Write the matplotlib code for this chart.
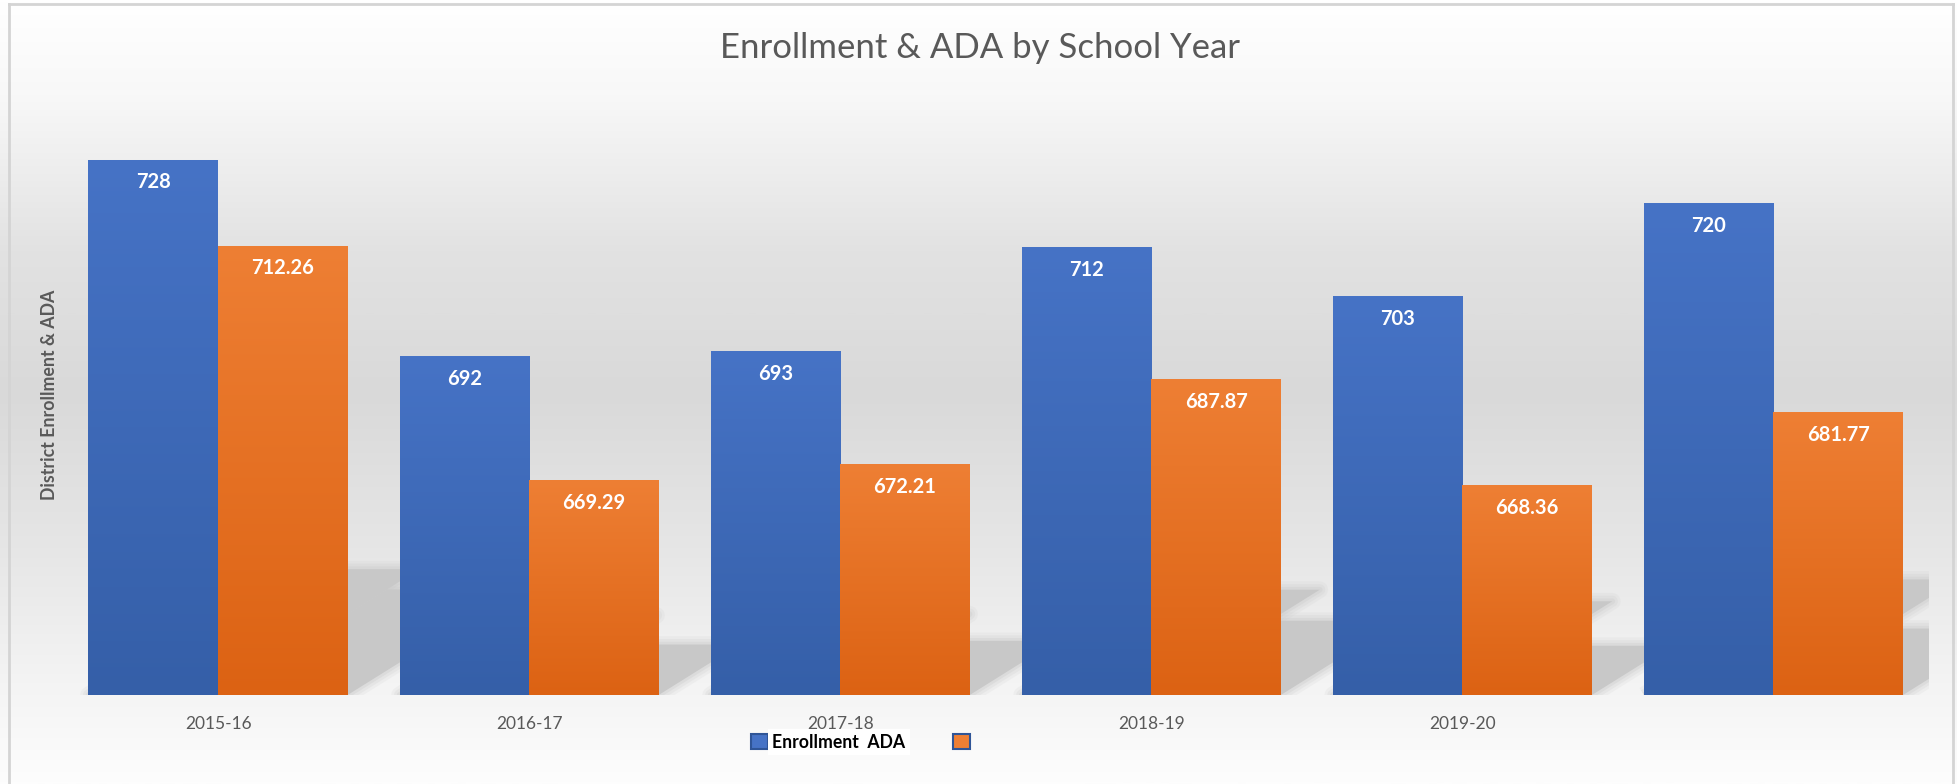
"""Enrollment & ADA by school year: grouped bars with gradient fill and soft floor shadows"""

import matplotlib
import numpy as np

matplotlib.use("Agg")
import matplotlib.pyplot as plt
from matplotlib.colors import LinearSegmentedColormap
from matplotlib.patches import Patch, Polygon

# region data
years = ["2015-16", "2016-17", "2017-18", "2018-19", "2019-20", ""]
enrollment = [728, 692, 693, 712, 703, 720]
ada = [712.26, 669.29, 672.21, 687.87, 668.36, 681.77]
enrollment_labels = ["728", "692", "693", "712", "703", "720"]
ada_labels = ["712.26", "669.29", "672.21", "687.87", "668.36", "681.77"]
# endregion

Y_MIN, Y_MAX = 630, 740
BAR_W = 0.4165
FONT = ["Lato", "DejaVu Sans"]

BLUE_TOP, BLUE_BOTTOM = "#4673c6", "#355fa8"
ORANGE_TOP, ORANGE_BOTTOM = "#ee7f34", "#dc6213"
SHADOW = "#c8c8c8"
TEXT_GRAY = "#595959"


def _background(fig) -> None:
    """整张图的竖直渐变背景和浅灰边框"""

    bg = fig.add_axes((0, 0, 1, 1), zorder=-10)
    stops = [(0.0, "#ffffff"), (0.12, "#f8f8f8"), (0.32, "#e2e2e2"), (0.5, "#d9d9d9"),
             (0.7, "#e6e6e6"), (0.86, "#f3f3f3"), (1.0, "#fdfdfd")]
    cmap = LinearSegmentedColormap.from_list("bg", stops)
    grad = np.linspace(0, 1, 512).reshape(-1, 1)
    bg.imshow(grad, cmap=cmap, extent=(0, 1, 0, 1), origin="upper", aspect="auto")
    bg.plot([0.0045, 0.0045], [0, 0.995], color="#d4d4d4", lw=2)
    bg.plot([0.0045, 0.998], [0.995, 0.995], color="#d4d4d4", lw=2)
    bg.plot([0.998, 0.998], [0, 0.995], color="#d4d4d4", lw=2)
    bg.set_xlim(0, 1)
    bg.set_ylim(0, 1)
    bg.axis("off")


def _shadow(ax, patch, k: float = 0.235, skew: float = 1.6) -> None:
    """在柱子后面画一个倾斜的投影（像素坐标里计算，再换回数据坐标）"""

    x0 = patch.get_x()
    x1 = x0 + patch.get_width()
    top = patch.get_y() + patch.get_height()
    (px0, pb), (px1, pt) = ax.transData.transform([(x0, Y_MIN), (x1, top)])
    dy = k * (pt - pb)
    dx = skew * dy
    pts = ax.transData.inverted().transform(
        [(px0, pb), (px1, pb), (px1 + dx, pb + dy), (px0 + dx, pb + dy)]
    )
    for lw, alpha in ((12, 0.15), (8, 0.2), (4, 0.3)):
        ax.add_patch(Polygon(pts, closed=True, facecolor="none", edgecolor=SHADOW,
                             lw=lw, alpha=alpha, joinstyle="round", zorder=1))
    ax.add_patch(Polygon(pts, closed=True, facecolor=SHADOW, edgecolor="none", zorder=1.1))


def _gradient(ax, patch, top_color: str, bottom_color: str) -> None:
    """用裁剪过的 imshow 给柱子加上上浅下深的渐变"""

    cmap = LinearSegmentedColormap.from_list("bar", [bottom_color, top_color])
    x0 = patch.get_x()
    top = patch.get_y() + patch.get_height()
    grad = np.linspace(0, 1, 256).reshape(-1, 1)
    im = ax.imshow(grad, cmap=cmap, extent=(x0, x0 + patch.get_width(), Y_MIN, top),
                   origin="lower", aspect="auto", zorder=3, interpolation="bilinear")
    im.set_clip_path(patch)


def main() -> None:
    fig = plt.figure(figsize=(19.57, 7.84), dpi=100)
    _background(fig)

    ax = fig.add_axes((62.5 / 1957, 89 / 784, 1866.5 / 1957, 601 / 784))
    ax.patch.set_alpha(0)
    x = np.arange(len(years))

    blue = ax.bar(x - BAR_W / 2, enrollment, BAR_W, color=BLUE_TOP, zorder=2, label="Enrollment")
    orange = ax.bar(x + BAR_W / 2, ada, BAR_W, color=ORANGE_TOP, zorder=2, label="ADA")
    ax.set_xlim(-0.5, len(years) - 0.5)
    ax.set_ylim(Y_MIN, Y_MAX)

    for patch in list(blue) + list(orange):
        _shadow(ax, patch)
    for patch in blue:
        _gradient(ax, patch, BLUE_TOP, BLUE_BOTTOM)
    for patch in orange:
        _gradient(ax, patch, ORANGE_TOP, ORANGE_BOTTOM)

    # 数据标签：白色粗体，放在柱顶下方
    for bars, labels in ((blue, enrollment_labels), (orange, ada_labels)):
        for patch, text in zip(bars, labels):
            ax.annotate(text, (patch.get_x() + patch.get_width() / 2, patch.get_height()),
                        xytext=(0, -16.5), textcoords="offset points", ha="center", va="center",
                        color="white", fontsize=14.5, fontweight="bold", family=FONT, zorder=5)

    ax.set_xlim(-0.5, len(years) - 0.5)
    ax.set_ylim(Y_MIN, Y_MAX)
    ax.set_xticks(x)
    ax.set_xticklabels(years, family=FONT, fontsize=12.5, color=TEXT_GRAY)
    ax.tick_params(axis="x", length=0, pad=15)
    ax.set_yticks([])
    for spine in ax.spines.values():
        spine.set_visible(False)

    ax.set_ylabel("District Enrollment & ADA", family=FONT, fontsize=12.8, fontweight="bold",
                  color=TEXT_GRAY)
    ax.yaxis.set_label_coords(-0.0022, 0.5)

    fig.text(0.501, 1 - 48 / 784, "Enrollment & ADA by School Year", ha="center", va="center",
             family=FONT, fontsize=25, fontweight="normal", color=TEXT_GRAY)

    # 图例：原图里只有第一个标签写了文字
    handles = [
        Patch(facecolor=BLUE_TOP, edgecolor="#2f5597", lw=1.5),
        Patch(facecolor=ORANGE_TOP, edgecolor="#2f5597", lw=1.5),
    ]
    legend = fig.legend(handles, ["Enrollment  ADA", ""], loc="center left",
                        bbox_to_anchor=(751 / 1957, 1 - 742 / 784), ncol=2, frameon=False,
                        prop={"family": FONT, "size": 12.7, "weight": "bold"},
                        handlelength=0.95, handleheight=0.95, handletextpad=0.25,
                        columnspacing=2.7, borderpad=0, borderaxespad=0)
    legend.get_texts()[0].set_bbox(dict(facecolor="white", edgecolor="none", pad=3))

    fig.savefig("out.png", dpi=100)
    plt.close(fig)


if __name__ == "__main__":
    main()
